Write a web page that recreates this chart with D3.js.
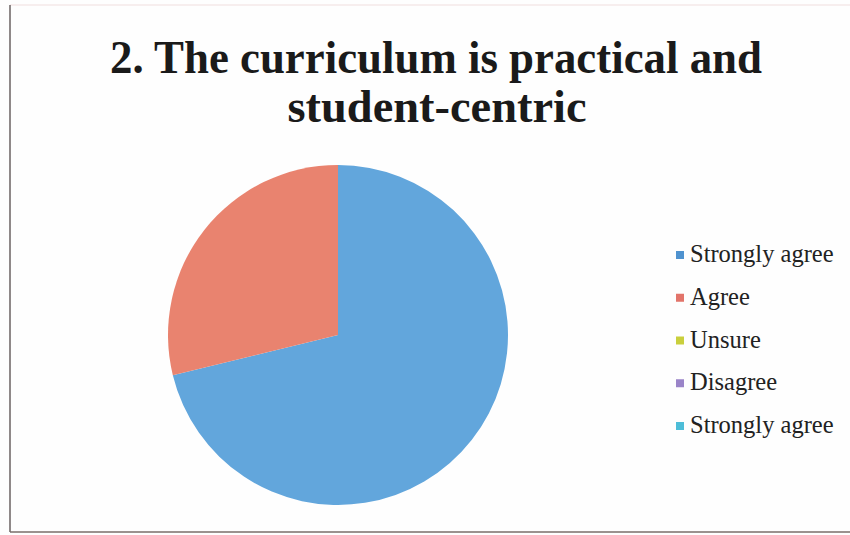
<!DOCTYPE html>
<html><head><meta charset="utf-8">
<script src="https://cdn.jsdelivr.net/npm/d3@7"></script>
<style>body{margin:0;background:#fff}svg{display:block}</style>
</head><body>
<svg id="c" width="850" height="535"></svg>
<script>
const titleLines = ["2. The curriculum is practical and", "student-centric"];
const categories = ["Strongly agree", "Agree", "Unsure", "Disagree", "Strongly agree"];
const values = [71.2, 28.8, 0, 0, 0];
const colors = ["#62a6dc", "#e9836f", "#c9cf3c", "#9a84c8", "#4dbdd8"];
const legendColors = ["#4f92cf", "#e2746a", "#c9cf3c", "#9a84c8", "#4dbdd8"];

const svg = d3.select("#c");
svg.append("rect").attr("width",850).attr("height",535).attr("fill","#fefefe");
// frame
svg.append("line").attr("x1",10).attr("y1",5).attr("x2",850).attr("y2",5).attr("stroke","#f0dede").attr("stroke-width",1);
svg.append("line").attr("x1",10).attr("y1",5).attr("x2",10).attr("y2",532).attr("stroke","#6a6262").attr("stroke-width",1.5);
svg.append("line").attr("x1",10).attr("y1",532).attr("x2",850).attr("y2",532).attr("stroke","#7a6e6a").attr("stroke-width",1.5);

// title
const tl = [{x:436,y:73,w:652},{x:437,y:122,w:299}];
titleLines.forEach((t,i)=>{
  svg.append("text").attr("x",tl[i].x).attr("y",tl[i].y).attr("text-anchor","middle")
    .attr("font-family","Liberation Serif, DejaVu Serif, serif").attr("font-weight","bold")
    .attr("font-size",47).attr("fill","#1a1a1a")
    .attr("textLength",tl[i].w).attr("lengthAdjust","spacingAndGlyphs").text(t);
});

// pie
const cx = 338, cy = 335, r = 170;
const pie = d3.pie().sort(null).value(d=>d.v);
const arc = d3.arc().innerRadius(0).outerRadius(r);
const data = pie(categories.map((c,i)=>({c, v:values[i], col:colors[i]})));
svg.append("g").attr("transform",`translate(${cx},${cy})`)
  .selectAll("path").data(data.filter(d=>d.data.v>0)).join("path")
  .attr("d",arc).attr("fill",d=>d.data.col).attr("stroke","none");

// legend
const ly = d3.scalePoint().domain(d3.range(categories.length)).range([255,426]);
const lg = svg.append("g");
categories.forEach((c,i)=>{
  const y = ly(i);
  lg.append("rect").attr("x",676).attr("y",y-4).attr("width",8).attr("height",8).attr("fill",legendColors[i]);
  lg.append("text").attr("x",690).attr("y",y+7).attr("font-family","Liberation Serif, DejaVu Serif, serif")
    .attr("font-size",24.5).attr("fill","#222").text(c);
});
</script>
</body></html>
